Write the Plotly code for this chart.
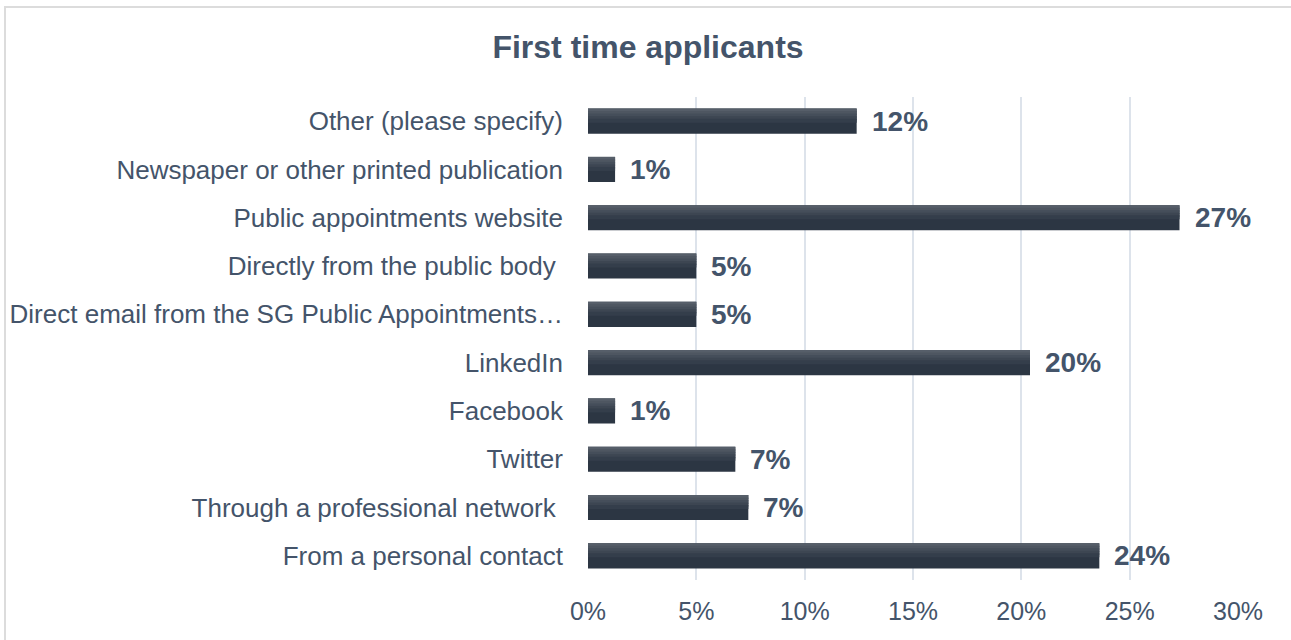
import plotly.graph_objects as go

categories = [
    "Other (please specify)",
    "Newspaper or other printed publication",
    "Public appointments website",
    "Directly from the public body ",
    "Direct email from the SG Public Appointments…",
    "LinkedIn",
    "Facebook",
    "Twitter",
    "Through a professional network ",
    "From a personal contact",
]
values = [12.4, 1.25, 27.3, 5.0, 5.0, 20.4, 1.25, 6.8, 7.4, 23.6]
x_ticks = [0, 5, 10, 15, 20, 25, 30]

TEXT = "#44546a"
FONT = "Liberation Sans, Arial, sans-serif"

fig = go.Figure()

bar_w = 0.52
# base bar (dark) then overlapping strips for a top-light vertical gradient
fig.add_trace(go.Bar(
    x=values, y=categories, orientation="h", width=bar_w, offset=-bar_w / 2,
    marker=dict(color="rgb(44,54,67)", line=dict(width=0)),
    hoverinfo="skip", showlegend=False,
))
n_strips = 5
top_rgb = (86, 94, 105)
bot_rgb = (44, 54, 67)
step = bar_w / 2 / n_strips
for i in range(n_strips):
    t = i / n_strips
    rgb = tuple(round(a + (b - a) * t) for a, b in zip(top_rgb, bot_rgb))
    fig.add_trace(go.Bar(
        x=values, y=categories, orientation="h",
        width=step * 1.6,
        offset=-bar_w / 2 + i * step,
        marker=dict(color="rgb(%d,%d,%d)" % rgb, line=dict(width=0)),
        hoverinfo="skip", showlegend=False,
    ))

for v, c in zip(values, categories):
    fig.add_annotation(
        x=v, y=c, text="<b>%d%%</b>" % round(v), showarrow=False,
        xanchor="left", yanchor="middle", xshift=13,
        font=dict(family=FONT, size=28, color=TEXT),
    )

# outer light border of the chart area (extends past right/bottom edges)
fig.add_shape(type="rect", xref="paper", yref="paper",
              x0=(5 - 588) / 650, x1=1.2, y0=-0.3, y1=(580 - 7) / 483,
              line=dict(color="#dcdcdc", width=2), fillcolor="rgba(0,0,0,0)",
              layer="below")

fig.update_layout(
    width=1291, height=640,
    margin=dict(l=588, r=53, t=97, b=60, autoexpand=False),
    paper_bgcolor="white", plot_bgcolor="white",
    barmode="overlay",
    title=dict(text="<b>First time applicants</b>", x=(648 - 588) / 650, xref="paper",
               xanchor="center", y=1 - 47 / 640, yanchor="middle",
               font=dict(family=FONT, size=32, color=TEXT)),
    font=dict(family=FONT, color=TEXT),
    xaxis=dict(range=[0, 30], tickmode="array", tickvals=x_ticks,
               ticktext=["%d%%" % t for t in x_ticks],
               showgrid=True, gridcolor="#dde3eb", gridwidth=2,
               zeroline=False, showline=False, ticks="",
               tickfont=dict(size=25, color=TEXT), ticklabelstandoff=14,
               automargin=False, fixedrange=True),
    yaxis=dict(autorange="reversed", showgrid=False, ticks="",
               tickfont=dict(size=26, color=TEXT), ticklabelstandoff=24,
               automargin=False, showline=False, zeroline=False, fixedrange=True),
)

fig.write_html(
    "out.html",
    config={"displayModeBar": False, "staticPlot": True},
    post_script="document.body.style.margin='0';document.body.style.overflow='hidden';",
)
